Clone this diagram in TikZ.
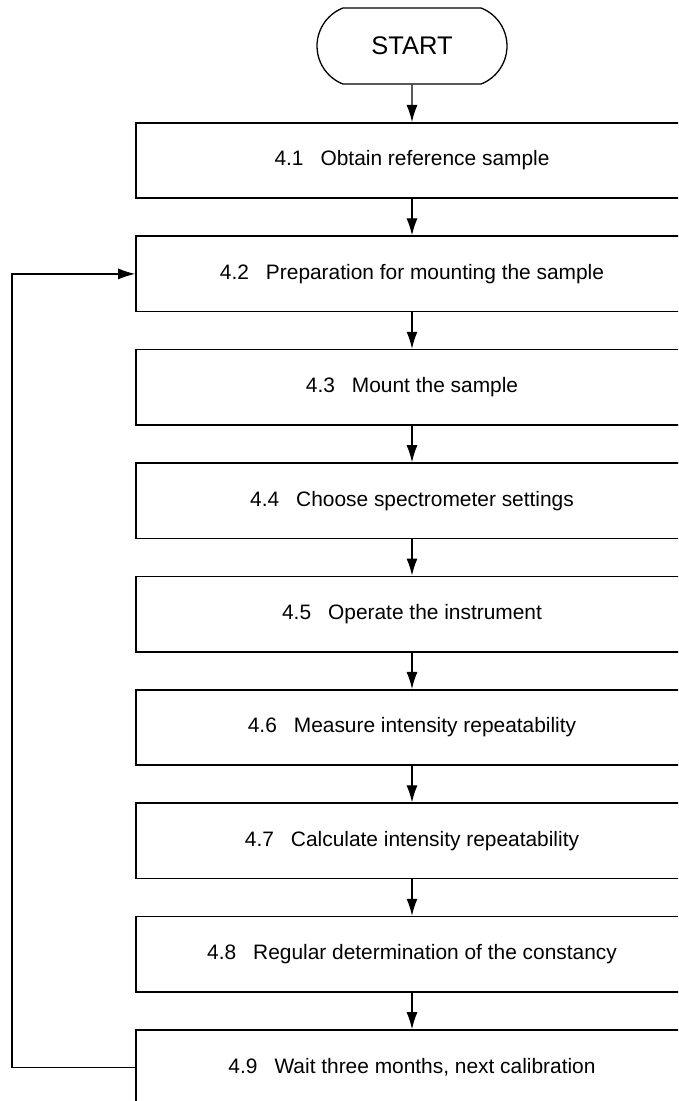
\documentclass[tikz,border=0pt]{standalone}
\usepackage{fontspec}
\setmainfont{Liberation Sans}
\usetikzlibrary{arrows.meta,shapes.misc}
\begin{document}
\begin{tikzpicture}[x=1pt,y=-1pt,
  stepbox/.style={draw=black, line width=1.6pt, minimum width=552pt, minimum height=75.5pt,
    inner sep=0pt, font=\fontsize{20.9}{25}\selectfont},
  term/.style={draw=black, line width=1.3pt, rounded rectangle, rounded rectangle arc length=137,
    minimum width=190pt, minimum height=76pt, inner sep=0pt, font=\fontsize{25.5}{30}\selectfont},
  flow/.style={line width=1.2pt, -{Latex[length=17pt,width=11pt]}}]
\clip (0,0) rectangle (678,1101);
\fill[white] (0,0) rectangle (678,1101);
\newcommand{\stp}[2]{#1\hspace{17pt}#2}
\node[term] (start) at (412,46) {START};
\node[stepbox] (b1) at (412,160.5) {\stp{4.1}{Obtain reference sample}};
\node[stepbox] (b2) at (412,273.9) {\stp{4.2}{Preparation for mounting the sample}};
\node[stepbox] (b3) at (412,387.3) {\stp{4.3}{Mount the sample}};
\node[stepbox] (b4) at (412,500.7) {\stp{4.4}{Choose spectrometer settings}};
\node[stepbox] (b5) at (412,614.1) {\stp{4.5}{Operate the instrument}};
\node[stepbox] (b6) at (412,727.5) {\stp{4.6}{Measure intensity repeatability}};
\node[stepbox] (b7) at (412,840.9) {\stp{4.7}{Calculate intensity repeatability}};
\node[stepbox] (b8) at (412,954.3) {\stp{4.8}{Regular determination of the constancy}};
\node[stepbox] (b9) at (412,1067.7) {\stp{4.9}{Wait three months, next calibration}};
\coordinate (lx) at (12,0);
\draw[flow] (start) -- (b1);
\draw[flow] (b1) -- (b2);
\draw[flow] (b2) -- (b3);
\draw[flow] (b3) -- (b4);
\draw[flow] (b4) -- (b5);
\draw[flow] (b5) -- (b6);
\draw[flow] (b6) -- (b7);
\draw[flow] (b7) -- (b8);
\draw[flow] (b8) -- (b9);
\draw[flow] (b9.west) -- (b9.west -| lx) -- (b2.west -| lx) -- (b2.west);
\end{tikzpicture}
\end{document}
